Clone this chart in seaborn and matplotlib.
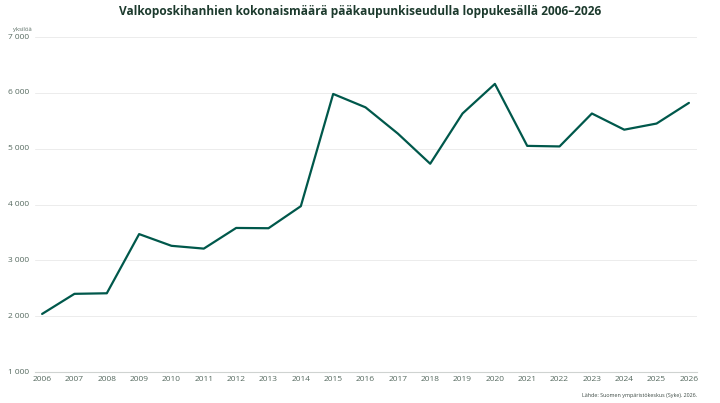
import numpy as np
import pandas as pd
import matplotlib
matplotlib.use("Agg")
import matplotlib.pyplot as plt
import matplotlib.ticker as mticker
import seaborn as sns

# === DATA
years = list(range(2006, 2027))
counts = [2040, 2400, 2410, 3470, 3260, 3210, 3580, 3575, 3970, 5980,
          5740, 5270, 4730, 5630, 6160, 5050, 5040, 5630, 5340, 5450, 5820]
y_ticks = [1000, 2000, 3000, 4000, 5000, 6000, 7000]

title = "Valkoposkihanhien kokonaismäärä pääkaupunkiseudulla loppukesällä 2006–2026"
unit_label = "yksilöä"
source = "Lähde: Suomen ympäristökeskus (Syke). 2026."

# === STYLE
LINE = "#00584b"
TITLE_C = "#1c3a2d"
TICK_C = "#566a60"
GRID_C = "#ececec"

sns.set_theme(style="white")
plt.rcParams["font.family"] = ["Open Sans", "DejaVu Sans"]

df = pd.DataFrame({"vuosi": years, "maara": counts})

fig = plt.figure(figsize=(7.2, 4.03), dpi=100)
ax = fig.add_axes([35 / 720, 1 - 372 / 403, 662 / 720, 335 / 403])

sns.lineplot(data=df, x="vuosi", y="maara", ax=ax, color=LINE, linewidth=1.6)

ax.set_xlim(2005.78, 2026.25)
ax.set_ylim(1000, 7000)
ax.set_xticks(years)
ax.set_yticks(y_ticks)
ax.yaxis.set_major_formatter(mticker.FuncFormatter(lambda v, p: f"{int(v):,}".replace(",", " ")))
ax.set_xlabel("")
ax.set_ylabel("")

ax.grid(axis="y", color=GRID_C, linewidth=0.7)
ax.set_axisbelow(True)
for s in ["top", "right", "left"]:
    ax.spines[s].set_visible(False)
ax.spines["bottom"].set_color("#cfd3d1")
ax.spines["bottom"].set_linewidth(0.8)

ax.tick_params(axis="both", length=0, labelsize=6, colors=TICK_C)
ax.tick_params(axis="y", pad=4)
ax.tick_params(axis="x", pad=3)
for lab in ax.get_yticklabels():
    lab.set_verticalalignment("center")

fig.text(0.5, 1 - 12 / 403, title, ha="center", va="center",
         fontsize=8.6, fontweight="bold", color=TITLE_C)
fig.text(13 / 720, 1 - 29 / 403, unit_label, ha="left", va="center",
         fontsize=4.2, color=TICK_C)
fig.text(697 / 720, 1 - 395 / 403, source, ha="right", va="center",
         fontsize=3.9, color="#3d4a44")

fig.savefig("out.png", dpi=100, facecolor="white")
